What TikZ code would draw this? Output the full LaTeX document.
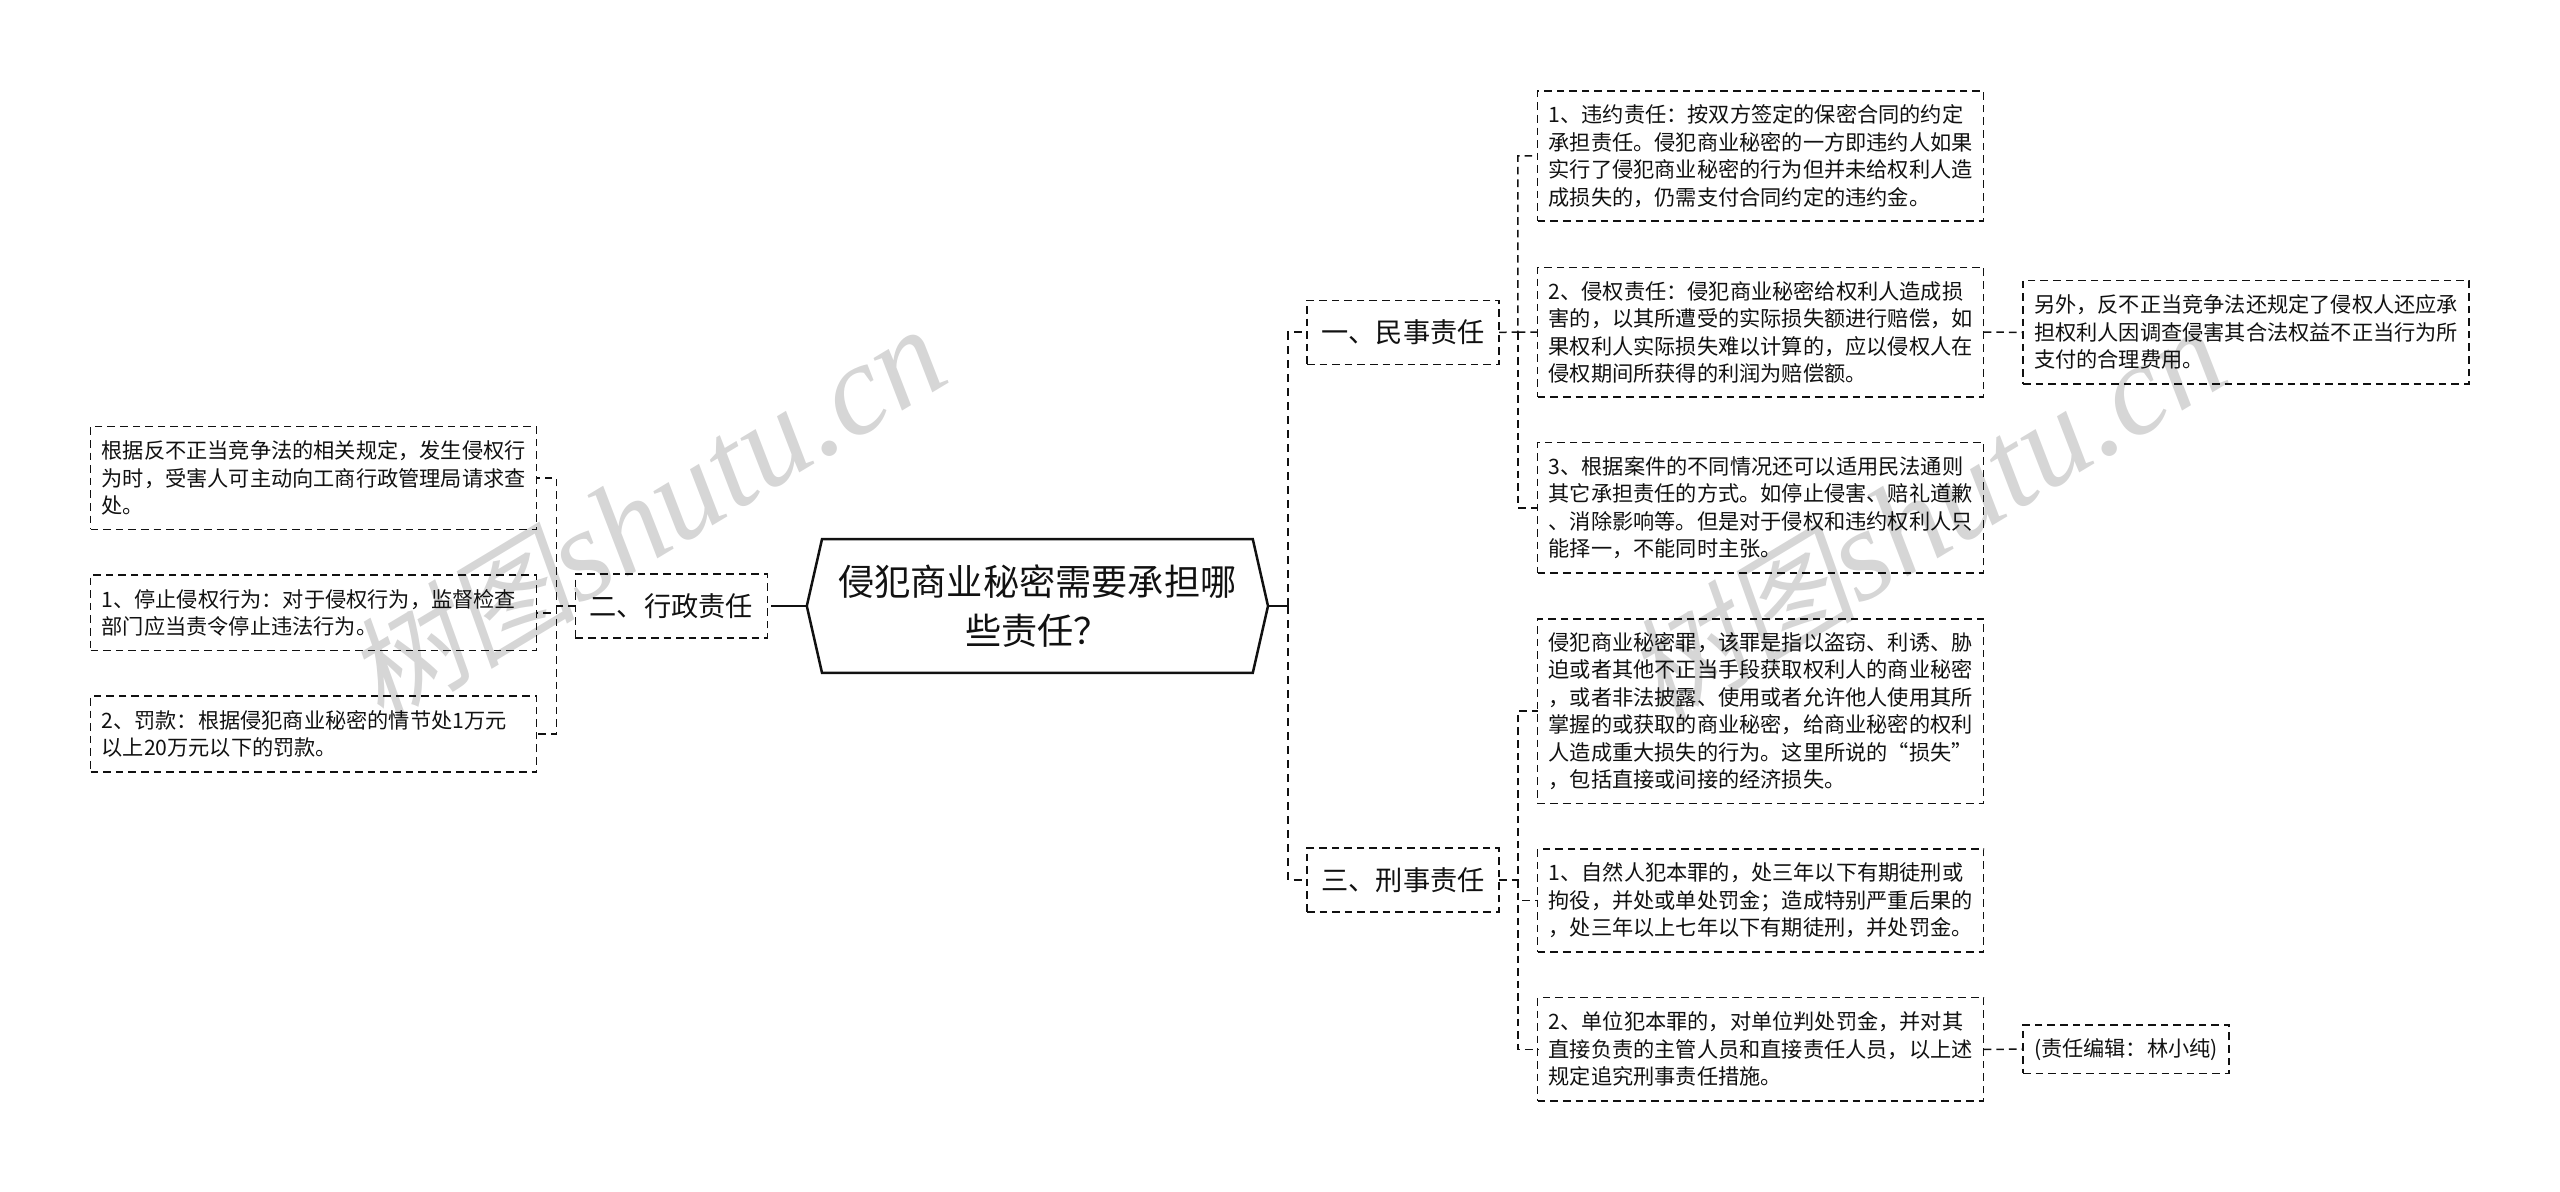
\documentclass[tikz,border=0pt]{standalone}
\usepackage{fontspec}
\setmainfont{Noto Sans CJK SC}
\newfontfamily\markcjk[FakeSlant=0.2]{Noto Sans CJK SC}
\newfontfamily\marklatin{Liberation Serif}
\definecolor{markgray}{HTML}{D6D6D6}
\definecolor{inkblack}{HTML}{111111}
\tikzset{
  linkdash/.style={draw=inkblack,line width=0.75pt,dash pattern=on 3.8pt off 2.5pt},
  trunkdash/.style={draw=inkblack,line width=1pt,dash pattern=on 4pt off 3pt},
  rootedge/.style={draw=inkblack,line width=1.25pt},
  detailbox/.style={linkdash,anchor=north west,align=left,text=inkblack,text width=212pt,
    inner xsep=5.5pt,inner ysep=0pt,outer sep=0pt,minimum height=#1,
    font=\fontsize{10.6}{13.75}\selectfont},
  branchbox/.style={linkdash,anchor=north west,text=inkblack,minimum width=96pt,minimum height=32pt,
    inner sep=0pt,outer sep=0pt,font=\fontsize{13.6}{16}\selectfont},
  markstyle/.style={text=markgray,rotate=31,inner sep=0pt,font=\fontsize{65}{70}\selectfont}
}
\begin{document}
\begin{tikzpicture}[x=0.5pt,y=-0.5pt]
  \useasboundingbox (0,0) rectangle (2560,1192);
  % watermark
  \node[markstyle] (markA) at (645,515) {{\fontsize{58}{70}\selectfont\markcjk 树图}\marklatin\itshape shutu.cn};
  \node[markstyle] (markB) at (1925,515) {{\fontsize{58}{70}\selectfont\markcjk 树图}\marklatin\itshape shutu.cn};
  % root
  \node[text=inkblack,align=center,minimum width=230.6pt,minimum height=66.8pt,inner sep=0pt,outer sep=0pt,
    font=\fontsize{18.1}{24.5}\selectfont] (root) at (1037.4,606) {侵犯商业秘密需要承担哪\\些责任？};
  \draw[rootedge] (root.west) -- ([xshift=7.6pt]root.north west) -- ([xshift=-7.6pt]root.north east)
    -- (root.east) -- ([xshift=-7.6pt]root.south east) -- ([xshift=7.6pt]root.south west) -- cycle;
  % branches
  \node[branchbox] (civil) at (1307,300.4) {一、民事责任};
  \node[branchbox] (admin) at (575.3,574) {二、行政责任};
  \node[branchbox] (crime) at (1307,848) {三、刑事责任};
  % left details
  \node[detailbox=51.3pt] (adminA) at (90.6,426.7) {根据反不正当竞争法的相关规定，发生侵权行\\为时，受害人可主动向工商行政管理局请求查\\处。};
  \node[detailbox=37.8pt] (adminB) at (90.6,575) {1、停止侵权行为：对于侵权行为，监督检查\\部门应当责令停止违法行为。};
  \node[detailbox=38.1pt] (adminC) at (90.6,696) {2、罚款：根据侵犯商业秘密的情节处1万元\\以上20万元以下的罚款。};
  % right details
  \node[detailbox=64.9pt] (civilA) at (1537.7,91) {1、违约责任：按双方签定的保密合同的约定\\承担责任。侵犯商业秘密的一方即违约人如果\\实行了侵犯商业秘密的行为但并未给权利人造\\成损失的，仍需支付合同约定的违约金。};
  \node[detailbox=64.9pt] (civilB) at (1537.7,267.3) {2、侵权责任：侵犯商业秘密给权利人造成损\\害的，以其所遭受的实际损失额进行赔偿，如\\果权利人实际损失难以计算的，应以侵权人在\\侵权期间所获得的利润为赔偿额。};
  \node[detailbox=65.2pt] (civilC) at (1537.7,442.6) {3、根据案件的不同情况还可以适用民法通则\\其它承担责任的方式。如停止侵害、赔礼道歉\\、消除影响等。但是对于侵权和违约权利人只\\能择一，不能同时主张。};
  \node[detailbox=92.2pt] (crimeA) at (1537.7,619) {侵犯商业秘密罪，该罪是指以盗窃、利诱、胁\\迫或者其他不正当手段获取权利人的商业秘密\\，或者非法披露、使用或者允许他人使用其所\\掌握的或获取的商业秘密，给商业秘密的权利\\人造成重大损失的行为。这里所说的“损失”\\，包括直接或间接的经济损失。};
  \node[detailbox=51.6pt] (crimeB) at (1537.7,849) {1、自然人犯本罪的，处三年以下有期徒刑或\\拘役，并处或单处罚金；造成特别严重后果的\\，处三年以上七年以下有期徒刑，并处罚金。};
  \node[detailbox=51.6pt] (crimeC) at (1537.7,997.7) {2、单位犯本罪的，对单位判处罚金，并对其\\直接负责的主管人员和直接责任人员，以上述\\规定追究刑事责任措施。};
  \node[detailbox=51.6pt] (civilNote) at (2023,280.7) {另外，反不正当竞争法还规定了侵权人还应承\\担权利人因调查侵害其合法权益不正当行为所\\支付的合理费用。};
  \node[detailbox=24.2pt,text width=92pt] (crimeNote) at (2023,1025) {(责任编辑：林小纯)};
  % connectors
  \coordinate (trunkR) at (1287.6,606);
  \coordinate (trunkL) at (779,606);
  \coordinate (civilBus) at (1517.8,332);
  \coordinate (crimeBus) at (1517.8,880);
  \coordinate (adminBus) at (556.4,606);
  \draw[rootedge] (root.east) -- (trunkR);
  \draw[rootedge] (root.west) -- (trunkL);
  \draw[linkdash] (trunkL) -- (admin.east);
  \draw[trunkdash] (trunkR) |- (civil.west);
  \draw[trunkdash] (trunkR) |- (crime.west);
  \draw[linkdash] (civil.east) -- (civilBus) |- (civilA.west);
  \draw[linkdash] (civilBus) -- (civilB.west);
  \draw[linkdash] (civilBus) |- (civilC.west);
  \draw[linkdash] (crime.east) -- (crimeBus) |- (crimeA.west);
  \draw[linkdash] (crimeBus) |- (crimeB.west);
  \draw[linkdash] (crimeBus) |- (crimeC.west);
  \draw[linkdash] (admin.west) -- (adminBus) |- (adminA.east);
  \draw[linkdash] (adminBus) |- (adminB.east);
  \draw[linkdash] (adminBus) |- (adminC.east);
  \draw[linkdash] (civilB.east) -- (civilNote.west);
  \draw[linkdash] (crimeC.east) -- (crimeNote.west);
\end{tikzpicture}
\end{document}
